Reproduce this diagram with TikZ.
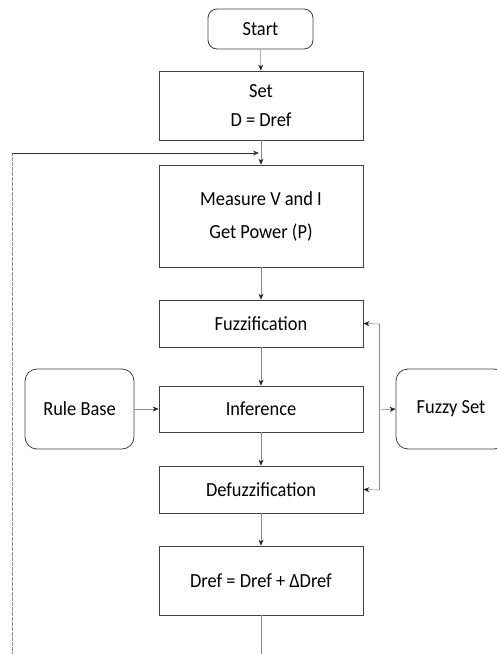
\documentclass[tikz,border=0pt]{standalone}
\usepackage{fontspec}
\setmainfont{Carlito}[FakeStretch=0.92]
\usetikzlibrary{arrows.meta}
\begin{document}
\begin{tikzpicture}[x=1pt,y=-1pt,
  box/.style={draw=black!75,line width=0.8pt,rectangle,minimum width=204pt,align=center,inner sep=0pt,font=\fontsize{20}{22}\selectfont},
  rbox/.style={box,rounded corners=9pt},
  conn/.style={draw=black!45,line width=0.6pt,-{Stealth[length=6pt,width=5pt,color=black!85]}},
  line/.style={draw=black!45,line width=0.6pt}]
\useasboundingbox (0,0) rectangle (496,654);
\node[rbox,minimum width=105pt,minimum height=40pt] (start) at (260.5,29) {Start};
\node[box,minimum height=69pt] (set) at (261,105.5) {Set\\[7pt]D = Dref};
\node[box,minimum height=102pt] (meas) at (261,216) {Measure V and I\\[11pt]Get Power (P)};
\node[box,minimum height=47pt] (fuzz) at (261,323.5) {Fuzzification};
\node[box,minimum height=46pt] (inf) at (261,409) {Inference};
\node[rbox,rounded corners=12pt,minimum width=109pt,minimum height=80pt] (rule) at (79.5,409) {Rule Base};
\node[rbox,rounded corners=12pt,minimum width=110pt,minimum height=80pt] (fset) at (451,409) {Fuzzy Set};
\node[box,minimum height=47pt] (defuzz) at (261,489.5) {Defuzzification};
\node[box,minimum height=69pt] (dref) at (261,580.5) {Dref = Dref + ΔDref};
\coordinate (b1) at (261,656);
\coordinate (b2) at (12,656);
\coordinate (tl) at (12,153);
\coordinate (tr) at (259,153);
\coordinate (bt) at (379,324);
\coordinate (bm) at (379,410);
\coordinate (bb) at (379,490);
\draw[conn] (start) -- (set);
\draw[conn] (set) -- (meas);
\draw[conn] (meas) -- (fuzz);
\draw[conn] (fuzz) -- (inf);
\draw[conn] (inf) -- (defuzz);
\draw[conn] (defuzz) -- (dref);
\draw[conn] (rule) -- (inf);
\draw[line] (dref) -- (b1);
\draw[line,dash pattern=on 4pt off 1pt] (b2) -- (tl);
\draw[draw=black!80,line width=0.8pt,-{Stealth[length=6pt,width=5pt]}] (tl) -- (tr);
\draw[line] (bt) -- (bb);
\draw[conn] (bt) -- (fuzz.east);
\draw[conn] (bb) -- (defuzz.east);
\draw[conn] (bm) -- (fset.west);
\end{tikzpicture}
\end{document}
